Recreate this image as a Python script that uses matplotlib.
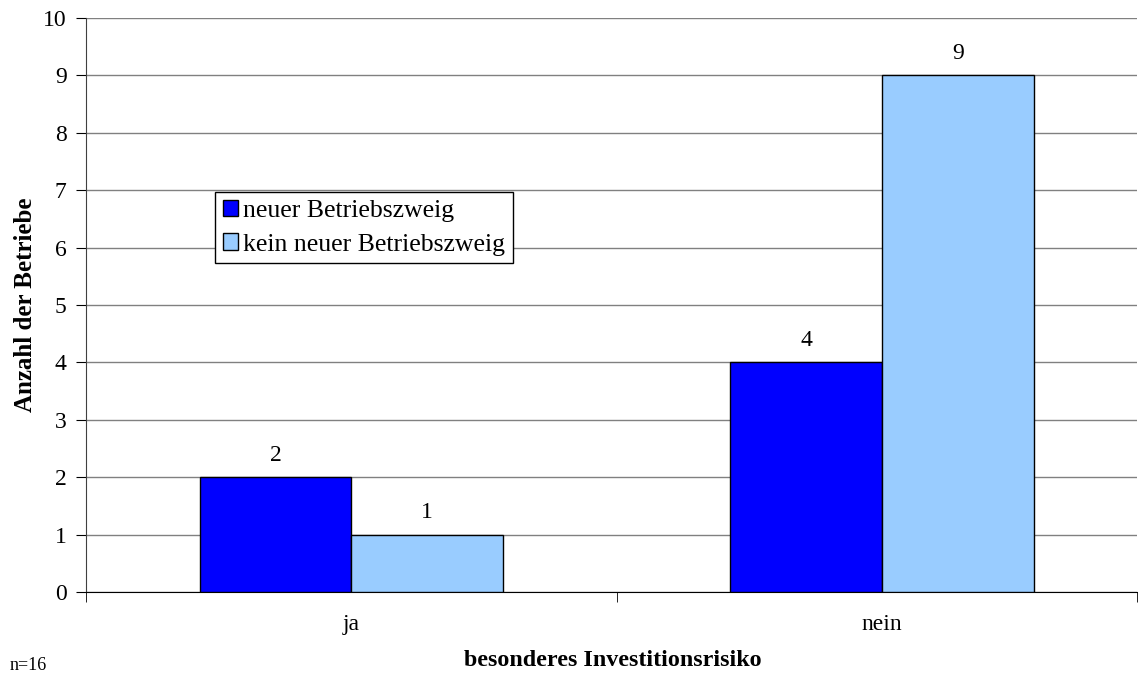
import matplotlib
matplotlib.use("Agg")
import matplotlib.pyplot as plt
import numpy as np

# data
categories = ["ja", "nein"]
series_names = ["neuer Betriebszweig", "kein neuer Betriebszweig"]
neuer = [2, 4]
kein_neuer = [1, 9]
colors = ["#0000FF", "#99CCFF"]

plt.rcParams['font.family'] = ['Liberation Serif', 'DejaVu Serif']

fig = plt.figure(figsize=(11.38, 6.77), dpi=100)
ax = fig.add_axes([86 / 1138, 85 / 677, 1051 / 1138, 574 / 677])

x = np.arange(len(categories))
width = 0.286
b1 = ax.bar(x - width / 2, neuer, width, color=colors[0], edgecolor="black",
            linewidth=1, label=series_names[0], zorder=3)
b2 = ax.bar(x + width / 2, kein_neuer, width, color=colors[1], edgecolor="black",
            linewidth=1, label=series_names[1], zorder=3)

for bars in (b1, b2):
    for rect in bars:
        h = rect.get_height()
        ax.text(rect.get_x() + rect.get_width() / 2, h + 0.2, str(int(h)),
                ha="center", va="bottom", fontsize=17)

ax.set_ylim(0, 10)
ax.set_xlim(-0.5, 1.48)
ax.set_yticks(range(0, 11))
ax.tick_params(axis="y", labelsize=17, length=7, direction="out", pad=7)
ax.yaxis.grid(True, color="#808080", linewidth=1, zorder=0)
ax.set_axisbelow(True)

ax.set_xticks(x)
ax.set_xticklabels(categories, fontsize=17)
ax.tick_params(axis="x", length=0, pad=16)
ax.set_xticks([-0.5, 0.5, 1.48], minor=True)
ax.tick_params(axis="x", which="minor", length=7, direction="out")

for s in ["top", "right"]:
    ax.spines[s].set_visible(False)
ax.spines["left"].set_color("#404040")
ax.spines["bottom"].set_color("black")

ax.set_ylabel("Anzahl der Betriebe", fontsize=18, fontweight="bold", labelpad=4)

fig.text(613 / 1138, 1 - 660 / 677, "besonderes Investitionsrisiko", ha="center",
         va="center", fontsize=17.3, fontweight="bold")
fig.text(10 / 1138, 1 - 666 / 677, "n=16", ha="left", va="center", fontsize=13)

leg = ax.legend(loc="upper left", bbox_to_anchor=(215 / 1138, 1 - 192 / 677),
                bbox_transform=fig.transFigure, fontsize=18.5, frameon=True,
                fancybox=False, framealpha=1, edgecolor="black",
                handlelength=0.6, handleheight=0.6, handletextpad=0.2,
                borderpad=0.3, labelspacing=0.45, borderaxespad=0)
leg.get_frame().set_linewidth(1)

fig.savefig("out.png", dpi=100)
